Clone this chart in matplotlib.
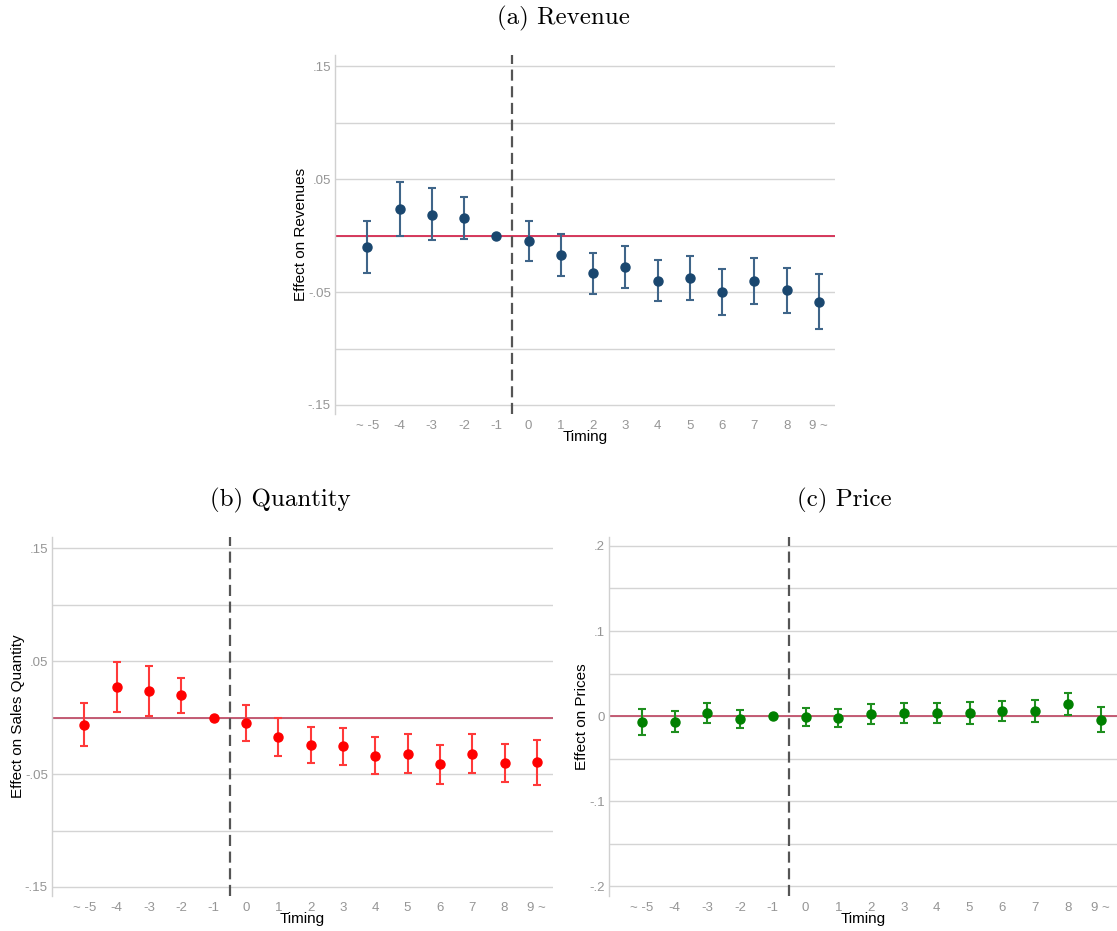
import matplotlib
matplotlib.use("Agg")
import matplotlib.pyplot as plt
import numpy as np

plt.rcParams['font.family'] = ['Liberation Sans', 'DejaVu Sans']

timing_labels = ["~ -5", "-4", "-3", "-2", "-1", "0", "1", "2", "3", "4", "5", "6", "7", "8", "9 ~"]

rev_est = [-0.0102, 0.0234, 0.0187, 0.0155, 0.0, -0.0050, -0.0170, -0.0333, -0.0278, -0.0398, -0.0377, -0.0497, -0.0404, -0.0485, -0.0585]
rev_hi  = [0.0129, 0.0474, 0.0418, 0.0339, 0.0, 0.0129, 0.0015, -0.0152, -0.0091, -0.0213, -0.0181, -0.0295, -0.0202, -0.0284, -0.0339]
rev_lo  = [-0.0330, -0.0006, -0.0041, -0.0029, 0.0, -0.0228, -0.0354, -0.0518, -0.0465, -0.0582, -0.0573, -0.0699, -0.0605, -0.0684, -0.0827]

qty_est = [-0.0061, 0.0275, 0.0234, 0.0199, 0.0, -0.0050, -0.0173, -0.0243, -0.0254, -0.0336, -0.0319, -0.0415, -0.0319, -0.0404, -0.0395]
qty_hi  = [0.0126, 0.0497, 0.0456, 0.0354, 0.0, 0.0108, -0.0006, -0.0085, -0.0094, -0.0175, -0.0146, -0.0246, -0.0146, -0.0231, -0.0196]
qty_lo  = [-0.0249, 0.0053, 0.0015, 0.0044, 0.0, -0.0205, -0.0339, -0.0404, -0.0418, -0.0497, -0.0488, -0.0588, -0.0491, -0.0570, -0.0594]

prc_est = [-0.0066, -0.0066, 0.0035, -0.0035, 0.0, -0.0012, -0.0023, 0.0023, 0.0035, 0.0031, 0.0031, 0.0059, 0.0063, 0.0141, -0.0043]
prc_hi  = [0.0086, 0.0059, 0.0156, 0.0074, 0.0, 0.0098, 0.0086, 0.0137, 0.0156, 0.0152, 0.0160, 0.0180, 0.0191, 0.0270, 0.0105]
prc_lo  = [-0.0219, -0.0191, -0.0082, -0.0145, 0.0, -0.0121, -0.0133, -0.0090, -0.0082, -0.0086, -0.0094, -0.0063, -0.0066, 0.0008, -0.0188]

rev_grid = [-0.15, -0.10, -0.05, 0.0, 0.05, 0.10, 0.15]
rev_ticks = [-0.15, -0.05, 0.05, 0.15]
rev_ticklabels = ["-.15", "-.05", ".05", ".15"]
prc_grid = [-0.20, -0.15, -0.10, -0.05, 0.0, 0.05, 0.10, 0.15, 0.20]
prc_ticks = [-0.2, -0.1, 0.0, 0.1, 0.2]
prc_ticklabels = ["-.2", "-.1", "0", ".1", ".2"]

W, H = 1117, 931
fig = plt.figure(figsize=(W / 100, H / 100), dpi=100)


def box(l, t, r, b):
    return [l / W, 1 - b / H, (r - l) / W, (b - t) / H]


def panel(rect, est, lo, hi, mcolor, ecolor, zcolor, ylabel, grid, ticks, ticklabels, ylim):
    ax = fig.add_axes(rect)
    x = np.arange(len(timing_labels))
    for g in grid:
        ax.axhline(g, color='#d4d4d4', lw=1.0, zorder=0)
    ax.axhline(0, color=zcolor, lw=1.3, zorder=1)
    ax.axvline(4.5, color='#555555', lw=1.6, ls=(0, (5, 2.5)), zorder=2, clip_on=False)
    est = np.array(est)
    yerr = np.vstack([est - np.array(lo), np.array(hi) - est])
    ax.errorbar(x, est, yerr=yerr, fmt='none', ecolor=ecolor, elinewidth=1.5,
                capsize=3.2, capthick=1.5, zorder=3)
    ax.plot(x, est, 'o', color=mcolor, ms=6.5, zorder=4)
    ax.set_xlim(-1, 14.5)
    ax.set_ylim(*ylim)
    ax.set_xticks(x)
    ax.set_xticklabels(timing_labels)
    ax.set_yticks(ticks)
    ax.set_yticklabels(ticklabels)
    ax.tick_params(axis='x', length=0, pad=4, labelsize=9.5, labelcolor='#959595')
    ax.tick_params(axis='y', length=0, pad=3, labelsize=9.5, labelcolor='#959595')
    for s in ['top', 'right', 'bottom']:
        ax.spines[s].set_visible(False)
    ax.spines['left'].set_color('#d0d0d0')
    ax.spines['left'].set_linewidth(1.0)
    ax.set_xlabel('Timing', fontsize=11, labelpad=-1, color='black')
    ax.set_ylabel(ylabel, fontsize=11, labelpad=0, color='black')
    return ax


panel(box(335, 55, 835, 414), rev_est, rev_lo, rev_hi, '#1a476f', '#3f6589', '#d42a50',
      'Effect on Revenues', rev_grid, rev_ticks, rev_ticklabels, (-0.158, 0.16))
panel(box(52, 537, 553, 896), qty_est, qty_lo, qty_hi, '#ff0000', '#ff3a3a', '#c0506a',
      'Effect on Sales Quantity', rev_grid, rev_ticks, rev_ticklabels, (-0.158, 0.16))
panel(box(609, 537, 1117, 896), prc_est, prc_lo, prc_hi, '#008000', '#1f8f1f', '#c0506a',
      'Effect on Prices', prc_grid, prc_ticks, prc_ticklabels, (-0.2115, 0.2105))

tkw = dict(family='cmr10', fontsize=18, ha='center', va='center')
fig.text(563 / W, 1 - 18 / H, '(a) Revenue', **tkw)
fig.text(280 / W, 1 - 500 / H, '(b) Quantity', **tkw)
fig.text(844 / W, 1 - 500 / H, '(c) Price', **tkw)

fig.savefig('out.png', dpi=100)
